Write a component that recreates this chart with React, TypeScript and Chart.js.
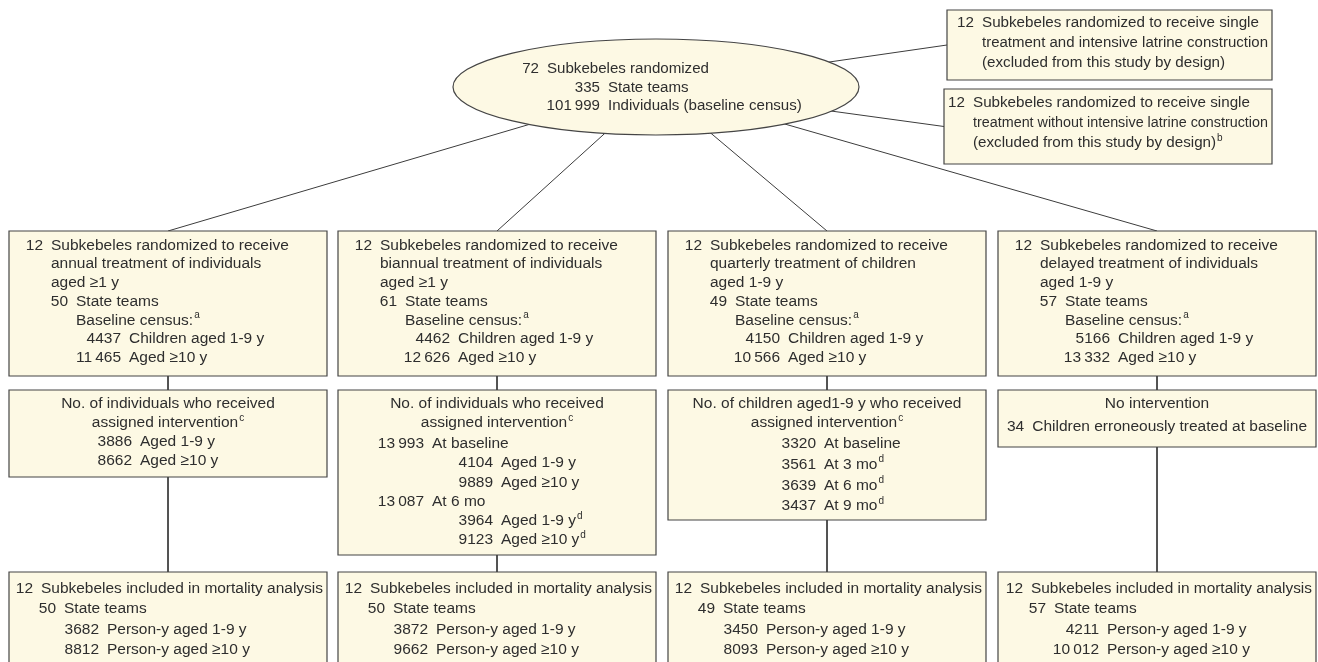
import React, { useEffect, useRef } from "react";
import { Chart, registerables } from "chart.js";

Chart.register(...registerables);

// ---------- DATA (text content of the flow diagram) ----------
// each line: [indent level (-1 = centred), count, label, superscript]
type Line = [number, string, string, string?];

const rootLines: Line[] = [
  [0, "72", "Subkebeles randomized"],
  [1, "335", "State teams"],
  [1, "101\u2009999", "Individuals (baseline census)"],
];

const excludedLatrine: Line[] = [
  [0, "12", "Subkebeles randomized to receive single"],
  [0, "", "treatment and intensive latrine construction"],
  [0, "", "(excluded from this study by design)"],
];

const excludedNoLatrine: Line[] = [
  [0, "12", "Subkebeles randomized to receive single"],
  [0, "", "treatment without intensive latrine construction"],
  [0, "", "(excluded from this study by design)", "b"],
];

const armAnnual: Line[] = [
  [0, "12", "Subkebeles randomized to receive"],
  [0, "", "annual treatment of individuals"],
  [0, "", "aged \u22651 y"],
  [1, "50", "State teams"],
  [1, "", "Baseline census:", "a"],
  [2, "4437", "Children aged 1-9 y"],
  [2, "11\u2009465", "Aged \u226510 y"],
];
const armBiannual: Line[] = [
  [0, "12", "Subkebeles randomized to receive"],
  [0, "", "biannual treatment of individuals"],
  [0, "", "aged \u22651 y"],
  [1, "61", "State teams"],
  [1, "", "Baseline census:", "a"],
  [2, "4462", "Children aged 1-9 y"],
  [2, "12\u2009626", "Aged \u226510 y"],
];
const armQuarterly: Line[] = [
  [0, "12", "Subkebeles randomized to receive"],
  [0, "", "quarterly treatment of children"],
  [0, "", "aged 1-9 y"],
  [1, "49", "State teams"],
  [1, "", "Baseline census:", "a"],
  [2, "4150", "Children aged 1-9 y"],
  [2, "10\u2009566", "Aged \u226510 y"],
];
const armDelayed: Line[] = [
  [0, "12", "Subkebeles randomized to receive"],
  [0, "", "delayed treatment of individuals"],
  [0, "", "aged 1-9 y"],
  [1, "57", "State teams"],
  [1, "", "Baseline census:", "a"],
  [2, "5166", "Children aged 1-9 y"],
  [2, "13\u2009332", "Aged \u226510 y"],
];

const treatedAnnual: Line[] = [
  [-1, "", "No. of individuals who received"],
  [-1, "", "assigned intervention", "c"],
  [0, "3886", "Aged 1-9 y"],
  [0, "8662", "Aged \u226510 y"],
];
const treatedBiannual: Line[] = [
  [-1, "", "No. of individuals who received"],
  [-1, "", "assigned intervention", "c"],
  [0, "13\u2009993", "At baseline"],
  [1, "4104", "Aged 1-9 y"],
  [1, "9889", "Aged \u226510 y"],
  [0, "13\u2009087", "At 6 mo"],
  [1, "3964", "Aged 1-9 y", "d"],
  [1, "9123", "Aged \u226510 y", "d"],
];
const treatedQuarterly: Line[] = [
  [-1, "", "No. of children aged1-9 y who received"],
  [-1, "", "assigned intervention", "c"],
  [0, "3320", "At baseline"],
  [0, "3561", "At 3 mo", "d"],
  [0, "3639", "At 6 mo", "d"],
  [0, "3437", "At 9 mo", "d"],
];
const treatedDelayed: Line[] = [
  [-1, "", "No intervention"],
  [-1, "34", "Children erroneously treated at baseline"],
];

const analysedAnnual: Line[] = [
  [0, "12", "Subkebeles included in mortality analysis"],
  [1, "50", "State teams"],
  [2, "3682", "Person-y aged 1-9 y"],
  [2, "8812", "Person-y aged \u226510 y"],
];
const analysedBiannual: Line[] = [
  [0, "12", "Subkebeles included in mortality analysis"],
  [1, "50", "State teams"],
  [2, "3872", "Person-y aged 1-9 y"],
  [2, "9662", "Person-y aged \u226510 y"],
];
const analysedQuarterly: Line[] = [
  [0, "12", "Subkebeles included in mortality analysis"],
  [1, "49", "State teams"],
  [2, "3450", "Person-y aged 1-9 y"],
  [2, "8093", "Person-y aged \u226510 y"],
];
const analysedDelayed: Line[] = [
  [0, "12", "Subkebeles included in mortality analysis"],
  [1, "57", "State teams"],
  [2, "4211", "Person-y aged 1-9 y"],
  [2, "10\u2009012", "Person-y aged \u226510 y"],
];

// ---------- LAYOUT (positions in chart units; 1 unit = 1 px) ----------
const W = 1318;
const H = 662;

type Shape = {
  id: string;
  kind: "ellipse" | "box";
  x: number;
  y: number;
  w: number;
  h: number;
  lines: Line[];
  cols: number[];
  y0: number;
  lh: number;
  fs?: number;
  body?: { from: number; y0: number; lh: number };
};

const colX = [9, 338, 668, 998];
const colW = 318;

const shapes: Shape[] = [
  { id: "root", kind: "ellipse", x: 453, y: 39, w: 406, h: 96, lines: rootLines, cols: [94, 155], y0: 69, lh: 18.5, fs: 15.1 },
  { id: "ex1", kind: "box", x: 947, y: 10, w: 325, h: 70, lines: excludedLatrine, cols: [35], y0: 23, lh: 20, fs: 15.2 },
  { id: "ex2", kind: "box", x: 944, y: 89, w: 328, h: 75, lines: excludedNoLatrine, cols: [29], y0: 103, lh: 20, fs: 15.2 },

  { id: "r1a", kind: "box", x: colX[0], y: 231, w: colW, h: 145, lines: armAnnual, cols: [42, 67, 120], y0: 245.5, lh: 18.7 },
  { id: "r1b", kind: "box", x: colX[1], y: 231, w: colW, h: 145, lines: armBiannual, cols: [42, 67, 120], y0: 245.5, lh: 18.7 },
  { id: "r1c", kind: "box", x: colX[2], y: 231, w: colW, h: 145, lines: armQuarterly, cols: [42, 67, 120], y0: 245.5, lh: 18.7 },
  { id: "r1d", kind: "box", x: colX[3], y: 231, w: colW, h: 145, lines: armDelayed, cols: [42, 67, 120], y0: 245.5, lh: 18.7 },

  { id: "r2a", kind: "box", x: colX[0], y: 390, w: colW, h: 87, lines: treatedAnnual, cols: [131], y0: 404, lh: 19 },
  { id: "r2b", kind: "box", x: colX[1], y: 390, w: colW, h: 165, lines: treatedBiannual, cols: [94, 163], y0: 404, lh: 19, body: { from: 2, y0: 444, lh: 19.2 } },
  { id: "r2c", kind: "box", x: colX[2], y: 390, w: colW, h: 130, lines: treatedQuarterly, cols: [156], y0: 404, lh: 19, body: { from: 2, y0: 444, lh: 20.7 } },
  { id: "r2d", kind: "box", x: colX[3], y: 390, w: colW, h: 57, lines: treatedDelayed, cols: [0], y0: 404, lh: 23 },

  { id: "r3a", kind: "box", x: colX[0], y: 572, w: colW, h: 110, lines: analysedAnnual, cols: [32, 55, 98], y0: 589, lh: 20.2 },
  { id: "r3b", kind: "box", x: colX[1], y: 572, w: colW, h: 110, lines: analysedBiannual, cols: [32, 55, 98], y0: 589, lh: 20.2 },
  { id: "r3c", kind: "box", x: colX[2], y: 572, w: colW, h: 110, lines: analysedQuarterly, cols: [32, 55, 98], y0: 589, lh: 20.2 },
  { id: "r3d", kind: "box", x: colX[3], y: 572, w: colW, h: 110, lines: analysedDelayed, cols: [33, 56, 109], y0: 589, lh: 20.2 },
];

type Anchor = "center" | "top" | "bottom" | "left";
const links: [string, Anchor, string, Anchor][] = [
  ["root", "center", "ex1", "left"],
  ["root", "center", "ex2", "left"],
  ["root", "center", "r1a", "top"],
  ["root", "center", "r1b", "top"],
  ["root", "center", "r1c", "top"],
  ["root", "center", "r1d", "top"],
  ["r1a", "bottom", "r2a", "top"],
  ["r1b", "bottom", "r2b", "top"],
  ["r1c", "bottom", "r2c", "top"],
  ["r1d", "bottom", "r2d", "top"],
  ["r2a", "bottom", "r3a", "top"],
  ["r2b", "bottom", "r3b", "top"],
  ["r2c", "bottom", "r3c", "top"],
  ["r2d", "bottom", "r3d", "top"],
];

const FONT = '"Liberation Sans", Arial, Helvetica, sans-serif';
const FONT_SIZE = 15.5;
const SUP_SIZE = 10;
const TEXT_COLOR = "#2e2e2e";
const FILL = "#fdf9e4";
const STROKE = "#454545";
const LINK_COLOR = "#3c3c3c";
const NUM_GAP = 8;

function anchorPoint(s: Shape, a: Anchor) {
  switch (a) {
    case "center":
      return { x: s.x + s.w / 2, y: s.y + s.h / 2 };
    case "top":
      return { x: s.x + s.w / 2, y: s.y };
    case "bottom":
      return { x: s.x + s.w / 2, y: s.y + s.h };
    case "left":
      return { x: s.x, y: s.y + s.h / 2 };
  }
}

const byId = (id: string) => shapes.find((s) => s.id === id) as Shape;

const flowPlugin = {
  id: "flowShapes",
  afterDatasetsDraw(chart: any) {
    const ctx: CanvasRenderingContext2D = chart.ctx;
    const xs = chart.scales.x;
    const ys = chart.scales.y;
    const X = (v: number) => xs.getPixelForValue(v);
    const Y = (v: number) => ys.getPixelForValue(v);
    ctx.save();
    for (const s of shapes) {
      const x0 = X(s.x);
      const y0 = Y(s.y);
      const x1 = X(s.x + s.w);
      const y1 = Y(s.y + s.h);
      ctx.beginPath();
      if (s.kind === "ellipse") {
        ctx.ellipse((x0 + x1) / 2, (y0 + y1) / 2, (x1 - x0) / 2, (y1 - y0) / 2, 0, 0, Math.PI * 2);
      } else {
        ctx.rect(x0, y0, x1 - x0, y1 - y0);
      }
      ctx.fillStyle = FILL;
      ctx.fill();
      ctx.lineWidth = 1.2;
      ctx.strokeStyle = STROKE;
      ctx.stroke();

      const fs = s.fs ?? FONT_SIZE;
      ctx.fillStyle = TEXT_COLOR;
      ctx.textBaseline = "middle";
      ctx.textAlign = "left";
      s.lines.forEach((ln, i) => {
        const [lvl, num, label, sup] = ln;
        const yv = s.body && i >= s.body.from ? s.body.y0 + (i - s.body.from) * s.body.lh : s.y0 + i * s.lh;
        const py = Y(yv);
        ctx.font = `${fs}px ${FONT}`;
        const numW = num ? ctx.measureText(num).width : 0;
        let labW = ctx.measureText(label).width;
        ctx.font = `${SUP_SIZE}px ${FONT}`;
        const supW = sup ? ctx.measureText(sup).width + 1 : 0;
        let labX: number;
        if (lvl < 0) {
          const total = (num ? numW + NUM_GAP : 0) + labW + supW;
          const start = (x0 + x1) / 2 - total / 2;
          labX = start + (num ? numW + NUM_GAP : 0);
        } else {
          labX = X(s.x + s.cols[lvl]);
        }
        const room = x1 - 4 - supW - labX;
        if (s.kind === "box" && labW > room) labW = room;
        ctx.font = `${fs}px ${FONT}`;
        if (num) ctx.fillText(num, labX - NUM_GAP - numW, py);
        ctx.fillText(label, labX, py, labW);
        if (sup) {
          ctx.font = `${SUP_SIZE}px ${FONT}`;
          ctx.fillText(sup, labX + labW + 1, py - 5);
        }
      });
    }
    ctx.restore();
  },
};

export default function App() {
  const ref = useRef<HTMLCanvasElement | null>(null);
  useEffect(() => {
    document.body.style.margin = "0";
    document.body.style.background = "#ffffff";
    const canvas = ref.current;
    if (!canvas) return;
    const datasets = links.map(([a, aa, b, ba]) => {
      const p = anchorPoint(byId(a), aa);
      const q = anchorPoint(byId(b), ba);
      return {
        data: [p, q],
        showLine: true,
        borderColor: LINK_COLOR,
        borderWidth: 1,
        pointRadius: 0,
        pointHoverRadius: 0,
        fill: false,
        tension: 0,
      };
    });
    const chart = new Chart(canvas, {
      type: "scatter",
      data: { datasets } as any,
      options: {
        animation: false,
        responsive: false,
        maintainAspectRatio: false,
        events: [],
        layout: { padding: 0 },
        plugins: { legend: { display: false }, tooltip: { enabled: false }, title: { display: false } },
        scales: {
          x: { type: "linear", min: 0, max: W, display: false },
          y: { type: "linear", min: 0, max: H, reverse: true, display: false },
        },
      } as any,
      plugins: [flowPlugin as any],
    });
    return () => chart.destroy();
  }, []);
  return (
    <div style={{ width: W, height: H, overflow: "hidden" }}>
      <canvas ref={ref} width={W} height={H} style={{ display: "block", width: W, height: H }} />
    </div>
  );
}
